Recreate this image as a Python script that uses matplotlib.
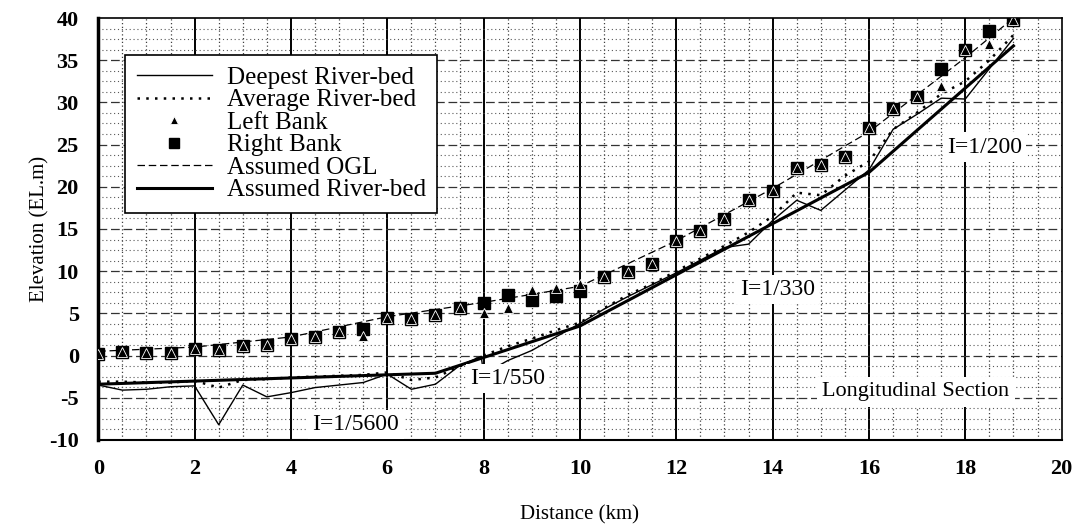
import matplotlib
matplotlib.use("Agg")
import matplotlib.pyplot as plt
import numpy as np

plt.rcParams["font.family"] = ["Liberation Serif", "DejaVu Serif"]
plt.rcParams["axes.unicode_minus"] = False

# bank survey points every 0.5 km
bank_dist = [0, 0.5, 1, 1.5, 2, 2.5, 3, 3.5, 4, 4.5, 5, 5.5, 6, 6.5, 7, 7.5, 8, 8.5, 9, 9.5,
             10, 10.5, 11, 11.5, 12, 12.5, 13, 13.5, 14, 14.5, 15, 15.5, 16, 16.5, 17, 17.5, 18, 18.5, 19]
right_bank = [0.2, 0.4, 0.3, 0.3, 0.8, 0.6, 1.1, 1.2, 2.0, 2.2, 2.8, 3.2, 4.4, 4.3, 4.8, 5.6, 6.2, 7.2, 6.6, 7.0,
              7.6, 9.3, 9.9, 10.9, 13.6, 14.8, 16.2, 18.4, 19.5, 22.2, 22.6, 23.5, 27.0, 29.2, 30.6, 34.0, 36.2, 38.5, 39.8]
left_bank = [0.2, 0.4, 0.3, 0.3, 0.8, 0.6, 1.1, 1.2, 2.0, 2.2, 2.8, 2.3, 4.4, 4.3, 4.8, 5.6, 5.0, 5.6, 7.8, 8.0,
             8.5, 9.3, 9.9, 10.9, 13.6, 14.8, 16.2, 18.4, 19.5, 22.2, 22.6, 23.5, 27.0, 29.2, 30.6, 32.0, 36.2, 36.9, 39.8]

avg_bed = [-3.1, -3.1, -3.2, -3.2, -3.0, -3.8, -2.9, -2.8, -2.6, -2.5, -2.4, -2.3, -2.0, -2.9, -2.6, -1.3, 0.0, 1.1, 2.0, 3.0,
           3.9, 5.6, 7.2, 8.5, 10.0, 11.5, 13.0, 14.6, 16.5, 19.3, 19.0, 21.3, 23.0, 26.8, 28.8, 31.0, 32.5, 35.0, 38.0]

deep_dist = [0, 0.5, 1, 1.5, 2, 2.5, 3, 3.5, 4, 4.5, 5, 5.5, 6, 6.5, 7, 7.5, 7.95, 8.0, 8.5, 9, 9.5,
             10, 10.5, 11, 11.5, 12, 12.5, 13, 13.5, 14, 14.5, 15, 15.5, 16, 16.5, 17, 17.5, 18, 18.5, 19]
deep_bed = [-3.5, -4.1, -4.0, -3.7, -3.6, -8.2, -3.5, -4.9, -4.4, -3.8, -3.5, -3.2, -2.2, -4.0, -3.4, -1.2, -0.1, -2.2, -0.6, 0.6, 2.2,
            3.8, 5.5, 7.0, 8.4, 9.8, 11.3, 12.8, 13.2, 16.0, 18.4, 17.2, 19.6, 22.0, 26.8, 28.6, 30.5, 30.4, 34.0, 37.6]

ogl_dist = [0, 2, 4, 6, 8, 10, 12, 14, 16, 18, 19]
ogl_elev = [0.5, 1.0, 2.2, 4.6, 6.3, 8.2, 13.6, 19.8, 26.5, 35.3, 40.0]

bed_dist = [0, 7, 10, 16, 19]
bed_elev = [-3.4, -2.1, 3.5, 21.7, 36.7]

slope_labels = ["I=1/5600", "I=1/550", "I=1/330", "I=1/200"]
slope_pos = [(5.35, -8.2), (8.5, -2.7), (14.1, 7.8), (18.4, 24.7)]

fig = plt.figure(figsize=(10.8, 5.3), dpi=100)
ax = fig.add_axes([0.091, 0.170, 0.892, 0.796])

# grid
ax.set_xlim(0, 20)
ax.set_ylim(-10, 40)
for xv in np.arange(0.5, 20, 0.5):
    if xv % 2 == 0:
        ax.axvline(xv, color="black", lw=1.4, zorder=1)
    else:
        ax.axvline(xv, color="0.25", lw=0.9, ls=(0, (1, 2)), zorder=1)
for yv in np.arange(-8.75, 40, 1.25):
    if yv % 5 == 0:
        ax.axhline(yv, color="0.2", lw=0.9, ls=(0, (7, 3)), zorder=1)
    else:
        ax.axhline(yv, color="0.35", lw=0.8, ls=(0, (1, 2.5)), zorder=1)

ax.plot(deep_dist, deep_bed, color="black", lw=1.0, label="Deepest River-bed", zorder=4)
ax.plot(bank_dist, avg_bed, color="black", lw=1.8, ls=(0, (1, 2.5)), label="Average River-bed", zorder=4)
ax.plot(bank_dist, left_bank, ls="none", marker="^", ms=7, mfc="black", mec="white", mew=0.6,
        label="Left Bank", zorder=6)
ax.plot(bank_dist, right_bank, ls="none", marker="s", ms=9, mfc="black", mec="black",
        label="Right Bank", zorder=5)
ax.plot(ogl_dist, ogl_elev, color="black", lw=0.9, ls=(0, (6, 3)), label="Assumed OGL", zorder=3)
ax.plot(bed_dist, bed_elev, color="black", lw=2.2, label="Assumed River-bed", zorder=4)

for txt, (tx, ty) in zip(slope_labels, slope_pos):
    ax.text(tx, ty, txt, fontsize=17, ha="center", va="center", zorder=7,
            bbox=dict(facecolor="white", edgecolor="none", pad=3))
ax.text(16.97, -4.3, "Longitudinal Section", fontsize=16, ha="center", va="center", zorder=7,
        bbox=dict(facecolor="white", edgecolor="none", pad=4))

leg = ax.legend(loc="upper left", bbox_to_anchor=(0.028, 0.912), borderaxespad=0, fontsize=18,
                labelspacing=0.0, handlelength=3.0, handletextpad=0.6, borderpad=0.45,
                markerscale=0.75, fancybox=False, framealpha=1, edgecolor="black")
leg.get_frame().set_linewidth(1.2)
leg.set_zorder(8)

ax.set_xticks(range(0, 21, 2))
ax.set_yticks(range(-10, 41, 5))
ax.tick_params(length=0, labelsize=16, pad=14)
for lab in ax.get_xticklabels() + ax.get_yticklabels():
    lab.set_fontweight("bold")
ax.set_xlabel("Distance (km)", fontsize=15, labelpad=19)
ax.set_ylabel("Elevation (EL.m)", fontsize=15, labelpad=0)

ax.spines["left"].set_linewidth(2.5)
ax.spines["bottom"].set_linewidth(1.5)
for s in ["top", "right"]:
    ax.spines[s].set_linewidth(1.2)

fig.savefig("out.png", dpi=100)
